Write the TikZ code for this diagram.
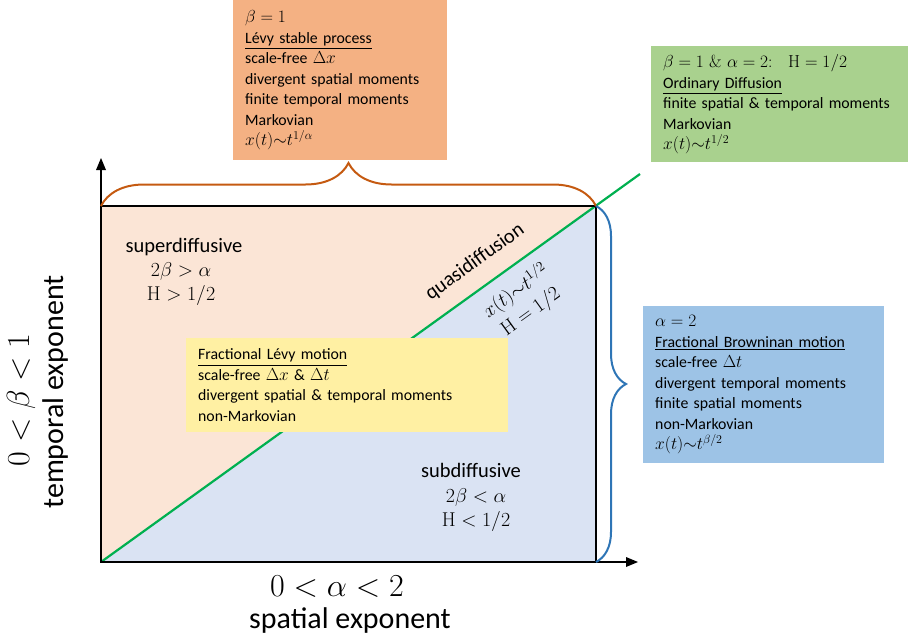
\RequirePackage{fix-cm}
\documentclass[tikz,border=0pt]{standalone}
\usepackage[no-math]{fontspec}
\setmainfont{Carlito}
\usepackage{amsmath}
\usetikzlibrary{decorations.pathreplacing}
\DeclareMathSizes{15.8}{17.4}{12}{9}

\definecolor{peachfill}{HTML}{FBE5D6}
\definecolor{bluefill}{HTML}{DAE3F3}
\definecolor{levyfill}{HTML}{F4B183}
\definecolor{difffill}{HTML}{A9D18E}
\definecolor{fbmfill}{HTML}{9DC3E6}
\definecolor{flmfill}{HTML}{FFF0A3}
\definecolor{bracered}{HTML}{C55A11}
\definecolor{braceblue}{HTML}{2E75B6}
\definecolor{quasigreen}{HTML}{00B050}

\begin{document}
\begin{tikzpicture}[x=1pt,y=1pt]
\tikzstyle{every node}+=[inner sep=0pt]
\tikzstyle{infobox}=[anchor=north west, align=left, inner xsep=12pt, inner ysep=0pt, font=\fontsize{15.8}{20.5}\selectfont]
\tikzstyle{region}=[font=\fontsize{20.5}{24}\selectfont]
\tikzstyle{regmath}=[align=center, font=\fontsize{20}{24}\selectfont]
\tikzstyle{axislabel}=[font=\fontsize{30}{34}\selectfont]
\tikzstyle{axismath}=[font=\fontsize{32}{34}\selectfont]
\useasboundingbox (0,0) rectangle (909,-640);
\coordinate (O) at (101,-562);
\coordinate (TL) at (101,-206);
\coordinate (TR) at (596,-206);
\coordinate (BR) at (596,-562);
\coordinate (G) at (640,-174);
% regions
\fill [peachfill] (O) -- (TL) -- (TR) -- cycle;
\fill [bluefill] (O) -- (TR) -- (BR) -- cycle;
\draw [quasigreen, line width=2.2pt] (O) -- (G);
\draw [black, line width=2.2pt] (O) rectangle (TR);
% axes
\draw [black, line width=2.2pt] (O) -- (101,-168);
\fill [black] (101,-158) -- (96,-170) -- (106,-170) -- cycle;
\draw [black, line width=2.2pt] (O) -- (627,-562);
\fill [black] (638,-562) -- (626,-557) -- (626,-567) -- cycle;
% braces
\draw [bracered, line width=2pt, decorate, decoration={brace, amplitude=43pt}] (TL) -- (TR);
\draw [braceblue, line width=2pt, decorate, decoration={brace, amplitude=30pt}] (TR) -- (BR);
% boxes
\node [infobox, fill=levyfill, text width=190pt, minimum height=160pt] (levybox) at (233,0) {$\beta=1$\\ \underline{Lévy stable process}\\ scale-free $\Delta x$\\ divergent spatial moments\\ finite temporal moments\\ Markovian\\ $x(t){\sim}t^{1/\alpha}$};
\node [infobox, fill=difffill, text width=233pt, minimum height=116pt] (diffbox) at (651,-46) {$\beta=1\ \&\ \alpha=2{:}\quad \mathrm{H}=1/2$\\ \underline{Ordinary Diffusion}\\ finite spatial \& temporal moments\\ Markovian\\ $x(t){\sim}t^{1/2}$};
\node [infobox, fill=fbmfill, text width=217pt, minimum height=157pt] (fbmbox) at (643,-306) {$\alpha=2$\\ \underline{Fractional Browninan motion}\\ scale-free $\Delta t$\\ divergent temporal moments\\ finite spatial moments\\ non-Markovian\\ $x(t){\sim}t^{\beta/2}$};
\node [infobox, fill=flmfill, text width=298pt, minimum height=94pt] (flmbox) at (186,-338) {\underline{Fractional Lévy motion}\\ scale-free $\Delta x$ \& $\Delta t$\\ divergent spatial \& temporal moments\\ non-Markovian};
% region labels
\node [region] (superlbl) at (184,-247) {superdiffusive};
\node [regmath] (supermath) at (181,-284) {$2\beta>\alpha$\\ $\mathrm{H}>1/2$};
\node [region] (sublbl) at (471,-470) {subdiffusive};
\node [regmath] (submath) at (476,-510) {$2\beta<\alpha$\\ $\mathrm{H}<1/2$};
\node [region, rotate=35.7] (quasilbl) at (475,-262) {quasidiffusion};
\node [regmath, rotate=35.7, font=\fontsize{20}{25}\selectfont] (quasimath) at (523,-301) {$x(t){\sim}t^{1/2}$\\ $\mathrm{H}=1/2$};
% axis labels
\node [axismath, rotate=90] (betalbl) at (21,-400) {$0<\beta<1$};
\node [axislabel, rotate=90] (templbl) at (56,-392) {temporal exponent};
\node [axismath] (alphalbl) at (337,-587) {$0<\alpha<2$};
\node [axislabel] (spatlbl) at (350,-620) {spatial exponent};
\end{tikzpicture}
\end{document}
